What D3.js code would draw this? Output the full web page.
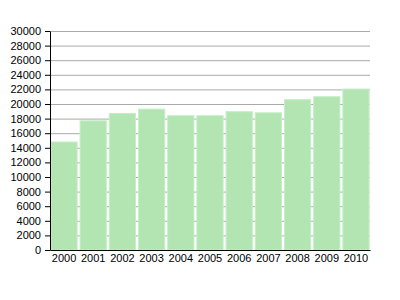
<!DOCTYPE html>
<html>
<head>
<meta charset="utf-8">
<script src="https://cdn.jsdelivr.net/npm/d3@7"></script>
<style>
body{margin:0;background:#fff}
.chart text{font-family:"Liberation Sans",Arial,sans-serif;font-size:11px;fill:#000}
</style>
</head>
<body>
<div class="chart"></div>
<script>
const years=['2000','2001','2002','2003','2004','2005','2006','2007','2008','2009','2010']
const values=[14800,17700,18700,19300,18400,18400,18950,18800,20600,21000,22050]
const yTicks=d3.range(0,30001,2000)

const width=400,height=300
const plotLeft=50,plotRight=370,plotTop=31,plotBottom=250

const svg=d3.select('.chart').append('svg')
		.attr('width',width)
		.attr('height',height)

const xBand=d3.scaleBand()
		.domain(years)
		.range([plotLeft,plotRight])
		.paddingInner(0.1)
		.paddingOuter(0.03)

const yScale=d3.scaleLinear()
		.domain([0,30000])
		.range([plotBottom,plotTop])

// grid
svg.append('g')
		.selectAll('line')
		.data(yTicks.filter(d=>d>0))
		.enter()
		.append('line')
		.attr('x1',plotLeft)
		.attr('x2',plotRight)
		.attr('y1',d=>yScale(d)+0.5)
		.attr('y2',d=>yScale(d)+0.5)
		.attr('stroke','#aaa')
		.attr('stroke-width',1)

svg.selectAll('.bar')
		.data(values)
		.enter()
		.append('rect')
		.attr('class','bar')
		.attr('x',(d,i)=>xBand(years[i]))
		.attr('y',d=>yScale(d))
		.attr('width',xBand.bandwidth())
		.attr('height',d=>plotBottom-yScale(d))
		.attr('fill','#b2e5b2')
		.attr('stroke','#c8eec8')
		.attr('stroke-width',1)

const yAxis=d3.axisLeft(yScale)
		.tickValues(yTicks)
		.tickFormat(d3.format('d'))
		.tickSize(5)
		.tickSizeOuter(0)
		.tickPadding(4)

svg.append('g')
		.attr('class','y-axis')
		.attr('transform',`translate(${plotLeft},0)`)
		.call(yAxis)

const xAxis=d3.axisBottom(xBand)
		.tickSize(0)
		.tickSizeOuter(0)
		.tickPadding(4)

svg.append('g')
		.attr('class','x-axis')
		.attr('transform',`translate(0,${plotBottom})`)
		.call(xAxis)

svg.selectAll('.domain,.tick line').attr('stroke','#000')
svg.selectAll('.tick text').attr('font-family','"Liberation Sans",Arial,sans-serif').attr('font-size',11)
</script>
</body>
</html>
